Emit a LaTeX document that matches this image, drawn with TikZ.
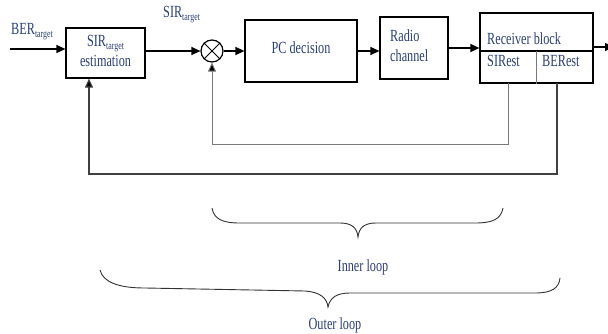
\documentclass[tikz,border=0pt]{standalone}
\usepackage{fontspec}
\setmainfont[FakeStretch=0.72]{Liberation Serif}
\usetikzlibrary{arrows.meta,calc}
\definecolor{labelblue}{RGB}{42,62,112}
\definecolor{fbgray}{RGB}{120,120,120}
\newcommand{\sub}[1]{\raisebox{-0.35ex}{\fontsize{11}{12}\selectfont #1}}
\tikzset{
  lbl/.style={inner sep=0pt, text=labelblue, font=\fontsize{17}{20}\selectfont},
  blk/.style={draw=black, line width=1.2pt, inner sep=0pt},
  sig/.style={line width=1.2pt, -{Triangle[length=9pt,width=8pt]}},
  fbinner/.style={draw=fbgray, line width=0.9pt, -{Triangle[length=9pt,width=8pt,fill=black]}},
  fbouter/.style={draw=black!75, line width=1.1pt, -{Triangle[length=9pt,width=8pt,fill=black]}},
  brace/.style={draw=black!80, line width=0.9pt},
}
\begin{document}
\begin{tikzpicture}[x=1pt,y=-1pt]
\useasboundingbox (0,0) rectangle (608,334);

% blocks
\node[blk, minimum width=79pt, minimum height=50pt] (est) at (105.5,53) {};
\node[blk, circle, minimum size=22pt] (sum) at (212,51) {};
\draw[line width=0.8pt] (sum.north west) -- (sum.south east)
                        (sum.north east) -- (sum.south west);
\node[blk, minimum width=112pt, minimum height=62pt] (pc) at (301,51) {};
\node[blk, minimum width=68pt, minimum height=62pt] (radio) at (414,48) {};
\node[blk, minimum width=113pt, minimum height=70pt] (rcv) at (536.5,48) {};

% receiver block partitions
\coordinate (rdl) at (480,51);
\coordinate (rdr) at (593,51);
\coordinate (rdm) at (536,51);
\draw[line width=1.1pt] (rdl) -- (rdr);
\draw[draw=fbgray, line width=0.8pt] (rdm) -- (rdm |- rcv.south);

% texts
\node[lbl, anchor=base west] (berlbl) at (11,35) {BER\sub{target}};
\node[lbl, anchor=base west] (sirlbl) at (163,18) {SIR\sub{target}};
\node[lbl, anchor=base] (esttop) at (105.5,47) {SIR\sub{target}};
\node[lbl, anchor=base] (estbot) at (105.5,67) {estimation};
\node[lbl, anchor=base] (pclbl) at (301,54) {PC decision};
\node[lbl, anchor=base west] (radiotop) at (390,42) {Radio};
\node[lbl, anchor=base west] (radiobot) at (390,62) {channel};
\node[lbl, anchor=base west] (rcvlbl) at (487,45) {Receiver block};
\node[lbl, anchor=base west] (sirest) at (487,67) {SIRest};
\node[lbl, anchor=base west] (berest) at (542,67) {BERest};

% forward path
\coordinate (berin) at (10,49);
\coordinate (out) at (614,47);
\draw[sig] (berin) -- (berin -| est.west);
\draw[sig] (est.east |- sum) -- (sum.west);
\draw[sig] (sum.east) -- (pc.west);
\draw[sig] (pc.east) -- (pc.east -| radio.west);
\draw[sig] (radio.east |- rcv) -- (rcv.west);
\draw[sig] (rcv.east |- out) -- (out);

% feedback loops
\coordinate (sirtap) at (508,83);
\coordinate (bertap) at (557,83);
\coordinate (estin) at (89,174);
\draw[fbinner] (sirtap) -- ++(0,61) -| (sum.south);
\draw[fbouter] (bertap) |- (estin) -- (estin |- est.south);

% loop braces
\draw[brace] (212,208) .. controls (214,219) and (222,223) .. (240,223)
  -- (340,223) .. controls (352,223) and (357,228) .. (358,237)
  .. controls (359,228) and (364,223) .. (376,223)
  -- (475,223) .. controls (493,223) and (501,219) .. (503,208);
\node[lbl, anchor=base] (innerlbl) at (363,271) {Inner loop};

\draw[brace] (100,270) .. controls (103,282) and (118,288) .. (145,288)
  -- (305,291) .. controls (320,292) and (327,298) .. (328,307)
  .. controls (330,298) and (336,293) .. (350,293)
  -- (535,293) .. controls (552,293) and (559,288) .. (560,278);
\node[lbl, anchor=base] (outerlbl) at (335,329) {Outer loop};
\end{tikzpicture}
\end{document}
